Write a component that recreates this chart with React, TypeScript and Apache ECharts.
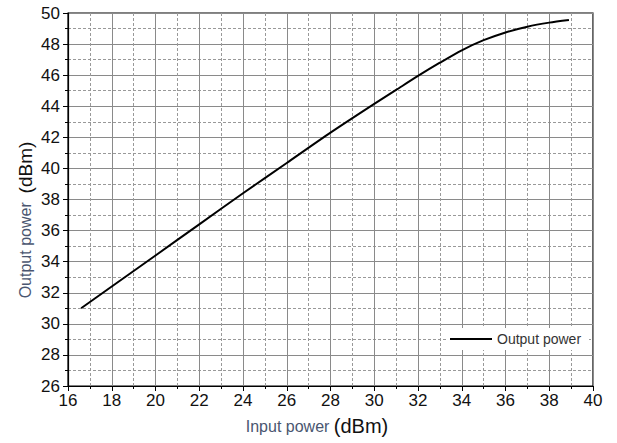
import React, { useEffect, useRef } from "react";
import * as echarts from "echarts";

const inputPower = [16.6, 18, 20, 22, 24, 26, 28, 30, 31, 32, 33, 34, 35, 36, 37, 38, 38.9];
const outputPower = [31.0, 32.4, 34.4, 36.4, 38.4, 40.35, 42.3, 44.15, 45.05, 45.95, 46.8, 47.6, 48.25, 48.75, 49.12, 49.38, 49.55];
const seriesName = "Output power";
const xTitle = "Input power";
const yTitle = "Output power";
const unit = "(dBm)";

export default function App() {
  const ref = useRef<HTMLDivElement>(null);
  useEffect(() => {
    if (!ref.current) return;
    const chart = echarts.init(ref.current, null, { renderer: "svg" });
    const data = inputPower.map((x, i) => [x, outputPower[i]]);
    const font = "'Liberation Sans', Arial, sans-serif";
    chart.setOption({
      animation: false,
      textStyle: { fontFamily: font },
      grid: { left: 68, right: 24, top: 13, bottom: 57, show: true, borderColor: "#000", borderWidth: 1.2 },
      legend: {
        data: [{ name: seriesName, icon: "rect" }],
        left: 446,
        top: 328,
        itemWidth: 42,
        itemHeight: 2,
        itemGap: 6,
        backgroundColor: "#fff",
        padding: [4, 8, 4, 4],
        textStyle: { fontSize: 14, color: "#333", fontFamily: font },
      },
      graphic: [
        {
          type: "text",
          x: 317,
          y: 426,
          style: {
            text: `{a|${xTitle} }{b|${unit}}`,
            align: "center",
            verticalAlign: "middle",
            rich: {
              a: { fontSize: 16, fill: "#4a5670", fontFamily: font },
              b: { fontSize: 20, fill: "#111", fontFamily: font },
            },
          },
        },
        {
          type: "text",
          x: 25,
          y: 220,
          rotation: Math.PI / 2,
          style: {
            text: `{a|${yTitle}  }{b|${unit}}`,
            align: "center",
            verticalAlign: "middle",
            rich: {
              a: { fontSize: 16, fill: "#4a5670", fontFamily: font },
              b: { fontSize: 19, fill: "#111", fontFamily: font },
            },
          },
        },
      ],
      xAxis: {
        type: "value",
        min: 16,
        max: 40,
        interval: 2,
        axisLine: { lineStyle: { color: "#000", width: 1.2 } },
        axisTick: { show: true, inside: false, length: 5, lineStyle: { color: "#000" } },
        minorTick: { show: true, splitNumber: 2, length: 3, lineStyle: { color: "#000" } },
        axisLabel: { fontSize: 17, color: "#111", margin: 6 },
        splitLine: { show: true, lineStyle: { color: "#8a8a8a", width: 1 } },
        minorSplitLine: { show: true, lineStyle: { color: "#999", type: [3, 2], width: 1 } },
      },
      yAxis: {
        type: "value",
        min: 26,
        max: 50,
        interval: 2,
        axisLine: { show: true, lineStyle: { color: "#000", width: 1.2 } },
        axisTick: { show: true, inside: false, length: 5, lineStyle: { color: "#000" } },
        minorTick: { show: true, splitNumber: 2, length: 3, lineStyle: { color: "#000" } },
        axisLabel: { fontSize: 17, color: "#111", margin: 8 },
        splitLine: { show: true, lineStyle: { color: "#8a8a8a", width: 1 } },
        minorSplitLine: { show: true, lineStyle: { color: "#999", type: [3, 2], width: 1 } },
      },
      series: [
        {
          name: seriesName,
          type: "line",
          data,
          smooth: 0.25,
          showSymbol: false,
          symbol: "none",
          lineStyle: { color: "#000", width: 2 },
          itemStyle: { color: "#000" },
        },
      ],
    });
    return () => chart.dispose();
  }, []);
  return <div ref={ref} style={{ width: 617, height: 443, position: "absolute", left: 0, top: 0 }} />;
}
